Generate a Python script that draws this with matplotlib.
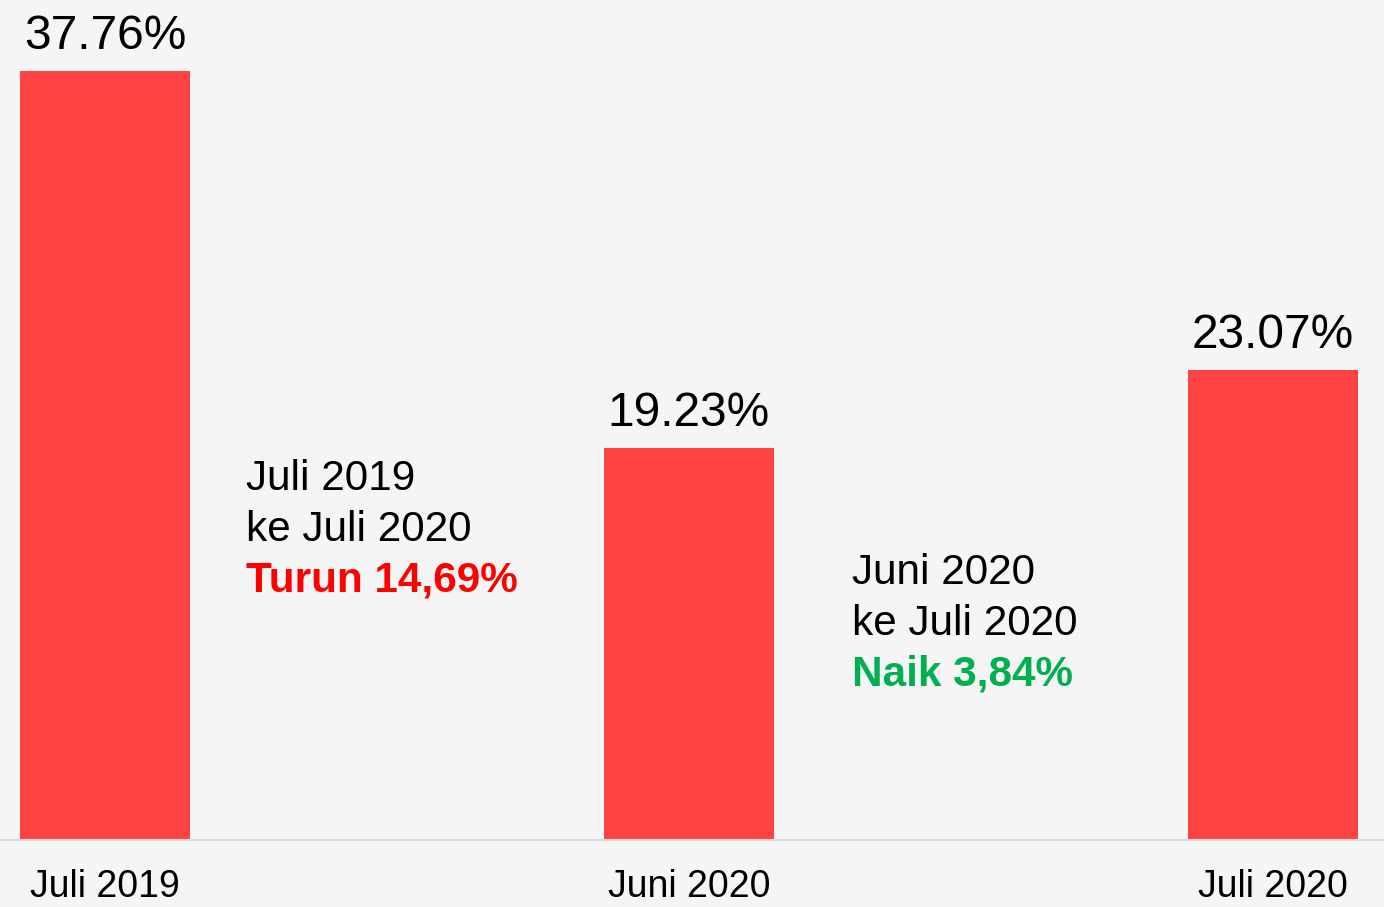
import matplotlib.pyplot as plt
import numpy as np

plt.rcParams['font.family'] = ['Liberation Sans', 'DejaVu Sans']

categories = ['Juli 2019', 'Juni 2020', 'Juli 2020']
values = [37.76, 19.23, 23.07]
value_labels = ['37.76%', '19.23%', '23.07%']

note1 = ['Juli 2019', 'ke Juli 2020', 'Turun 14,69%']
note2 = ['Juni 2020', 'ke Juli 2020', 'Naik 3,84%']

bg = '#f5f5f5'
bar_color = '#ff4343'

W, H = 1384, 907
fig = plt.figure(figsize=(W / 100, H / 100), dpi=100, facecolor=bg)
ax = fig.add_axes([0, (H - 840) / H, 1, 840 / H], facecolor=bg)

x = np.arange(len(categories))
ax.bar(x, values, width=170 / 584, color=bar_color, zorder=2)

ax.set_xlim(-105 / 584, 2 + (W - 1273) / 584)
ax.set_ylim(0, max(values) * 840 / 769)

for xi, v, lab in zip(x, values, value_labels):
    ax.annotate(lab, (xi, v), xytext=(0, 16), textcoords='offset points',
                ha='center', va='baseline', fontsize=34.5, color='black')

for side in ['top', 'right', 'left']:
    ax.spines[side].set_visible(False)
ax.spines['bottom'].set_color('#d9d9d9')
ax.spines['bottom'].set_linewidth(1.5)
ax.set_yticks([])
ax.set_xticks(x)
ax.set_xticklabels(categories, fontsize=27)
ax.tick_params(axis='x', length=0, pad=21)


def note(lines, left, base, color):
    for i, line in enumerate(lines):
        last = i == len(lines) - 1
        fig.text(left / W, 1 - (base + i * 51) / H, line, fontsize=30.4,
                 ha='left', va='baseline',
                 color=color if last else 'black',
                 fontweight='bold' if last else 'normal')


note(note1, 246, 490, '#ff0000')
note(note2, 852, 584, '#00b050')

fig.savefig('out.png', dpi=100, facecolor=bg)
